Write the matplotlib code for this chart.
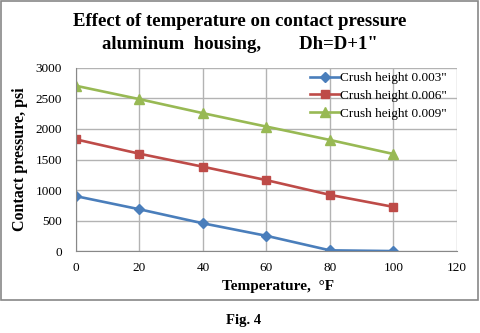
import matplotlib
matplotlib.use("Agg")
import matplotlib.pyplot as plt
from matplotlib.patches import Rectangle

# Datos
temperatura = [0, 20, 40, 60, 80, 100]
crush_003 = [900, 685, 455, 250, 12, 0]
crush_006 = [1830, 1595, 1382, 1162, 921, 724]
crush_009 = [2708, 2489, 2259, 2039, 1820, 1590]
etiquetas = ['Crush height 0.003"', 'Crush height 0.006"', 'Crush height 0.009"']

plt.rcParams['font.family'] = ['Liberation Serif', 'DejaVu Serif']

fig = plt.figure(figsize=(4.8, 3.33), dpi=100)
ax = fig.add_axes([0.158, 0.246, 0.794, 0.550])

#Series
ax.plot(temperatura, crush_003, color='#4A7EBB', lw=1.9, marker='D', ms=5.5, label=etiquetas[0])
ax.plot(temperatura, crush_006, color='#BE4B48', lw=1.9, marker='s', ms=6, label=etiquetas[1])
ax.plot(temperatura, crush_009, color='#98B954', lw=1.9, marker='^', ms=7, label=etiquetas[2])

ax.set_xlim(0, 120)
ax.set_ylim(0, 3000)
ax.set_xticks(range(0, 121, 20))
ax.set_yticks(range(0, 3001, 500))
ax.grid(color='#b3b3b3', lw=1.0)
ax.set_axisbelow(True)
for lado in ['top', 'right']:
    ax.spines[lado].set_visible(False)
for lado in ['left', 'bottom']:
    ax.spines[lado].set_color('#888888')
ax.tick_params(length=0, labelsize=9.5, pad=8)
ax.tick_params(axis='y', pad=10)

ax.set_xlabel('Temperature,  \u00b0F', fontsize=11, fontweight='bold', labelpad=4, x=0.53)
ax.set_ylabel('Contact pressure, psi', fontsize=11.5, fontweight='bold', labelpad=5)

leg = ax.legend(loc='upper left', bbox_to_anchor=(0.605, 1.0), frameon=False, fontsize=9.5,
                handlelength=2.2, handletextpad=0.05, labelspacing=0.43, borderaxespad=0.0,
                borderpad=0.3)

#Titulo y textos
fig.text(0.5, 0.935, 'Effect of temperature on contact pressure', ha='center', va='center',
         fontsize=13.5, fontweight='bold')
fig.text(0.5, 0.866, 'aluminum  housing,        Dh=D+1"', ha='center', va='center',
         fontsize=13.5, fontweight='bold')
fig.text(0.508, 0.038, 'Fig. 4', ha='center', va='center', fontsize=10.5, fontweight='bold')

#Marco del grafico
fig.patches.append(Rectangle((0.002, 0.1), 0.993, 0.897, transform=fig.transFigure,
                             fill=False, edgecolor='#888888', lw=1.2))

fig.savefig('out.png', dpi=100)
